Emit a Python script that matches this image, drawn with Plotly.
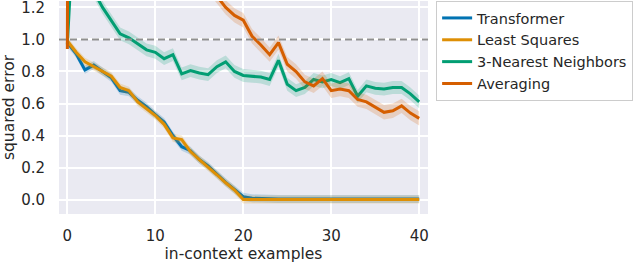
import plotly.graph_objects as go

examples = list(range(41))

transformer = [0.98, 0.91, 0.81, 0.84, 0.80, 0.76, 0.68, 0.67, 0.62, 0.58, 0.53,
               0.485, 0.40, 0.33, 0.305, 0.25, 0.21, 0.158, 0.108, 0.063, 0.018,
               0.008, 0.005, 0.004, 0.003, 0.003, 0.003, 0.003, 0.003, 0.003, 0.003,
               0.003, 0.003, 0.003, 0.003, 0.003, 0.003, 0.003, 0.003, 0.003, 0.003]
least_squares = [0.99, 0.92, 0.86, 0.83, 0.80, 0.77, 0.70, 0.68, 0.61, 0.57, 0.525,
                 0.47, 0.385, 0.375, 0.30, 0.25, 0.205, 0.155, 0.105, 0.06, 0.0,
                 0.0, 0.0, 0.0, 0.0, 0.0, 0.0, 0.0, 0.0, 0.0, 0.0,
                 0.0, 0.0, 0.0, 0.0, 0.0, 0.0, 0.0, 0.0, 0.0, 0.0]
knn3 = [0.97, 2.0, 1.5, 1.30, 1.20, 1.12, 1.035, 1.01, 0.975, 0.935, 0.92,
        0.88, 0.905, 0.785, 0.805, 0.79, 0.78, 0.83, 0.86, 0.80, 0.775,
        0.77, 0.765, 0.75, 0.87, 0.72, 0.68, 0.70, 0.75, 0.735, 0.75,
        0.73, 0.755, 0.645, 0.71, 0.695, 0.69, 0.70, 0.70, 0.66, 0.61]
averaging = [0.94, 21.0, 10.6, 7.1, 5.3, 4.3, 3.6, 3.05, 2.7, 2.4, 2.15,
             1.95, 1.78, 1.63, 1.52, 1.42, 1.34, 1.27, 1.20, 1.15, 1.12,
             1.02, 0.965, 0.905, 0.98, 0.845, 0.80, 0.735, 0.71, 0.755, 0.68,
             0.69, 0.68, 0.625, 0.61, 0.575, 0.545, 0.555, 0.585, 0.54, 0.507]

names = ["Transformer", "Least Squares", "3-Nearest Neighbors", "Averaging"]
series = [transformer, least_squares, knn3, averaging]
ci_half = [0.025, 0.025, 0.04, 0.045]
colors = ["#0173b2", "#de8f05", "#029e73", "#d55e00"]
fills = ["rgba(1,115,178,0.2)", "rgba(222,143,5,0.2)", "rgba(2,158,115,0.2)", "rgba(213,94,0,0.2)"]

TXT = "#262626"
FONT = "DejaVu Sans"

fig = go.Figure()
for name, vals, h, c, fc in zip(names, series, ci_half, colors, fills):
    fig.add_trace(go.Scatter(x=examples, y=[v + h for v in vals], mode="lines",
                             line=dict(width=0, color=c), showlegend=False, hoverinfo="skip"))
    fig.add_trace(go.Scatter(x=examples, y=[v - h for v in vals], mode="lines",
                             line=dict(width=0, color=c), fill="tonexty", fillcolor=fc,
                             showlegend=False, hoverinfo="skip"))
    fig.add_trace(go.Scatter(x=examples, y=vals, mode="lines", name=name,
                             line=dict(width=3, color=c)))

fig.add_hline(y=1.0, line=dict(color="#8f8f8f", width=2, dash="7px,4px"))

fig.update_layout(
    width=640, height=264,
    margin=dict(l=59, r=212, t=1, b=50),
    paper_bgcolor="white", plot_bgcolor="#eaeaf2",
    font=dict(family=FONT, color=TXT, size=15),
    legend=dict(x=1.022, y=1.0, xanchor="left", yanchor="top", traceorder="normal",
                bgcolor="white", bordercolor="#cccccc", borderwidth=1,
                font=dict(family=FONT, size=14.5, color=TXT)),
)
fig.update_xaxes(range=[-0.95, 41.0], tickvals=[0, 10, 20, 30, 40], automargin=False,
                 showgrid=True, gridcolor="white", gridwidth=1.5, zeroline=False,
                 showline=False, ticks="outside", ticklen=8, tickcolor="rgba(0,0,0,0)",
                 tickfont=dict(size=15, family=FONT, color=TXT),
                 title=dict(text="in-context examples", standoff=2,
                            font=dict(size=15.5, family=FONT, color=TXT)))
fig.update_yaxes(range=[-0.09, 1.24], tickvals=[0.0, 0.2, 0.4, 0.6, 0.8, 1.0, 1.2],
                 ticktext=["0.0", "0.2", "0.4", "0.6", "0.8", "1.0", "1.2"], automargin=False,
                 ticklabeloverflow="allow",
                 showgrid=True, gridcolor="white", gridwidth=1.5, zeroline=False,
                 showline=False, ticks="outside", ticklen=10, tickcolor="rgba(0,0,0,0)",
                 tickfont=dict(size=15, family=FONT, color=TXT),
                 title=dict(text="squared error", standoff=6,
                            font=dict(size=15.5, family=FONT, color=TXT)))

fig.write_html("out.html", config={"displayModeBar": False},
               post_script="document.body.style.margin='0px';")
